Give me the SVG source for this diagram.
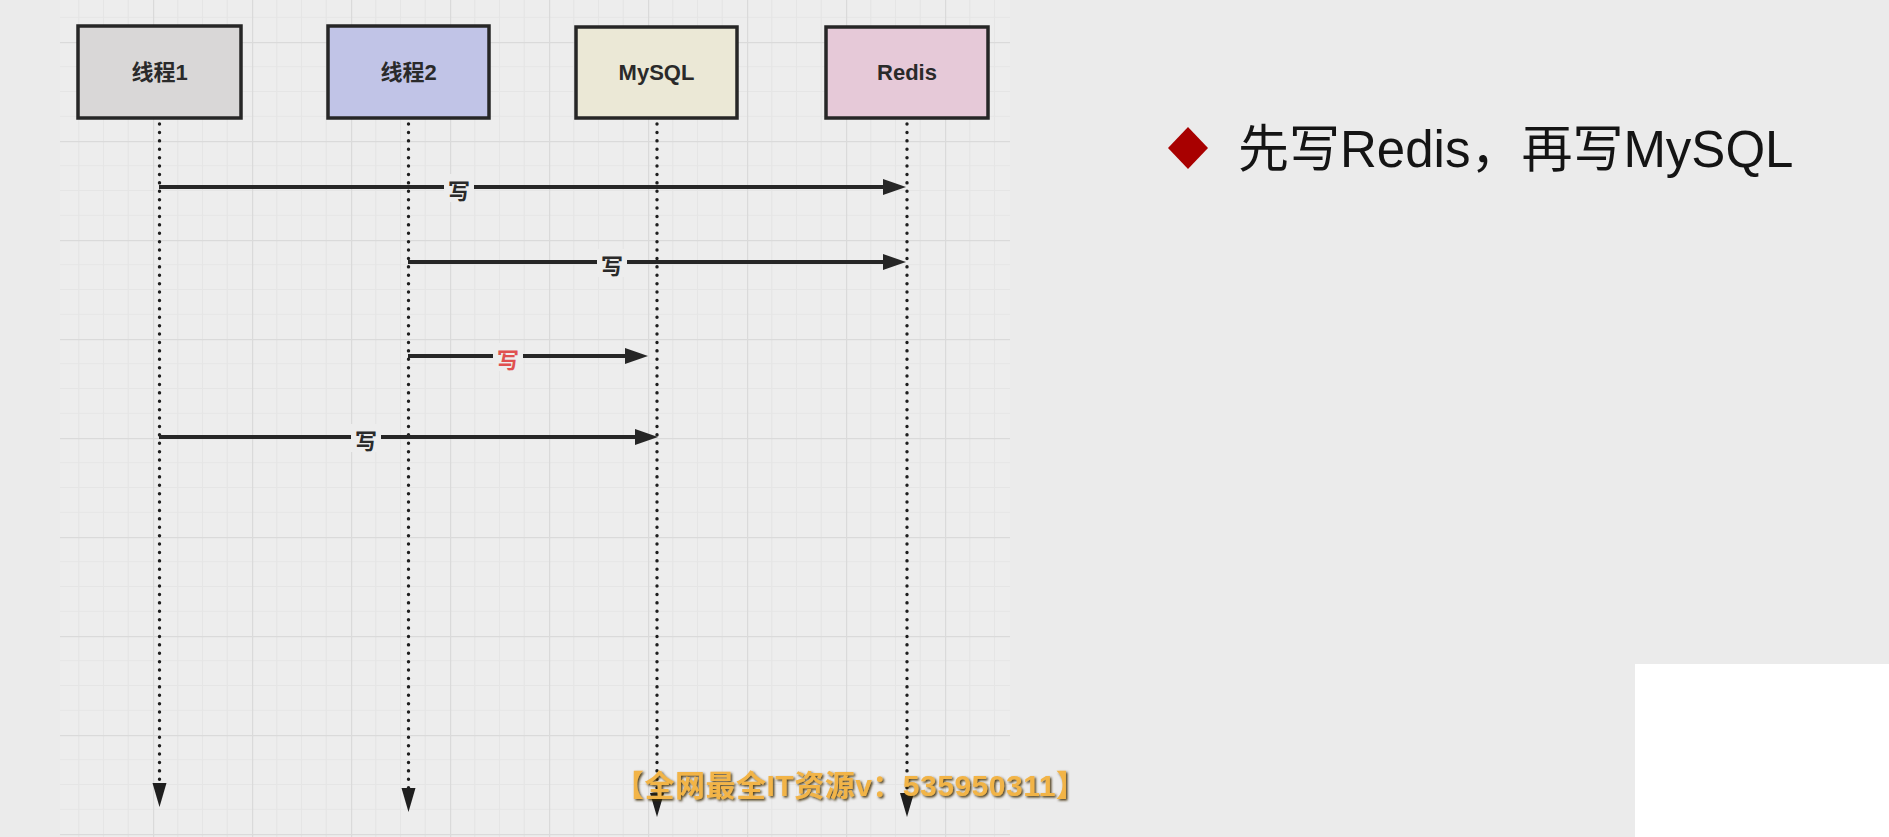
<svg xmlns="http://www.w3.org/2000/svg" width="1889" height="837" viewBox="0 0 1889 837">
  <defs>
    <style>
      .box { stroke: #262626; stroke-width: 3.5; }
      .boxlabel { font-family: "Liberation Sans", "Noto Sans CJK SC", sans-serif; font-size: 22px; font-weight: bold; fill: #2a2a2a; text-anchor: middle; dominant-baseline: central; }
      .life { stroke: #1e1e1e; stroke-width: 3.4; stroke-linecap: round; stroke-dasharray: 0.1 8.3; fill: none; }
      .msg { stroke: #262626; stroke-width: 4; fill: none; }
      .lblbg { fill: #ededed; }
      .lbl { font-family: "Noto Sans CJK SC", sans-serif; font-size: 22px; font-weight: bold; fill: #2a2a2a; text-anchor: middle; dominant-baseline: central; }
      .lbl.red { fill: #e05050; }
      .title { font-family: "Liberation Sans", "Noto Sans CJK SC", sans-serif; font-size: 51px; fill: #141414; }
      .wm { font-family: "Liberation Sans", "Noto Sans CJK SC", sans-serif; font-size: 30px; font-weight: bold; fill: #f2b447; letter-spacing: 0.5px; }
    </style>
    <pattern id="grid" patternUnits="userSpaceOnUse" x="54" y="42" width="99" height="99">
      <path d="M24.75 0V99M49.5 0V99M74.25 0V99M0 24.75H99M0 49.5H99M0 74.25H99" stroke="#e5e5e5" stroke-width="1.2" fill="none"/>
      <path d="M0.5 0V99M0 0.5H99" stroke="#dadada" stroke-width="1.5" fill="none"/>
    </pattern>
    <marker id="ah" markerUnits="userSpaceOnUse" markerWidth="26" markerHeight="18" refX="10" refY="8" orient="auto">
      <path d="M0,0 L23,8 L0,16 z" fill="#262626"/>
    </marker>
    <marker id="ahd" markerUnits="userSpaceOnUse" markerWidth="26" markerHeight="16" refX="2" refY="7" orient="auto">
      <path d="M0,0 L24,7 L0,14 z" fill="#1e1e1e"/>
    </marker>
    <filter id="wmshadow" x="-5%" y="-30%" width="110%" height="160%">
      <feDropShadow dx="1.5" dy="1.5" stdDeviation="0.8" flood-color="#3a2500" flood-opacity="0.9"/>
    </filter>
  </defs>

  <rect x="0" y="0" width="1889" height="837" fill="#ebebeb"/>
  <rect x="60" y="0" width="950" height="837" fill="#ededed"/>
  <rect x="60" y="0" width="950" height="837" fill="url(#grid)"/>

  <g id="connectors">
    <line class="life" x1="159.5" y1="124" x2="159.5" y2="785" marker-end="url(#ahd)"/>
    <line class="life" x1="408.5" y1="124" x2="408.5" y2="790" marker-end="url(#ahd)"/>
    <line class="life" x1="657" y1="124" x2="657" y2="795" marker-end="url(#ahd)"/>
    <line class="life" x1="907" y1="124" x2="907" y2="795" marker-end="url(#ahd)"/>

    <g id="msg1">
      <line class="msg" x1="159" y1="187" x2="893" y2="187" marker-end="url(#ah)"/>
      <rect class="lblbg" x="444" y="174" width="30" height="28"/>
      <text class="lbl" x="459" y="189">写</text>
    </g>
    <g id="msg2">
      <line class="msg" x1="408" y1="262" x2="893" y2="262" marker-end="url(#ah)"/>
      <rect class="lblbg" x="597" y="249" width="30" height="28"/>
      <text class="lbl" x="612" y="264">写</text>
    </g>
    <g id="msg3">
      <line class="msg" x1="408" y1="356" x2="635" y2="356" marker-end="url(#ah)"/>
      <rect class="lblbg" x="493" y="343" width="30" height="28"/>
      <text class="lbl red" x="508" y="358">写</text>
    </g>
    <g id="msg4">
      <line class="msg" x1="159" y1="437" x2="645" y2="437" marker-end="url(#ah)"/>
      <rect class="lblbg" x="351" y="424" width="30" height="28"/>
      <text class="lbl" x="366" y="439">写</text>
    </g>
  </g>

  <g id="node-thread1">
    <rect class="box" x="78" y="26" width="163" height="92" fill="#d9d7d7"/>
    <text class="boxlabel" x="159.5" y="72">线程1</text>
  </g>
  <g id="node-thread2">
    <rect class="box" x="328" y="26" width="161" height="92" fill="#c1c4e7"/>
    <text class="boxlabel" x="408.5" y="72">线程2</text>
  </g>
  <g id="node-mysql">
    <rect class="box" x="576" y="27" width="161" height="91" fill="#ebe8d6"/>
    <text class="boxlabel" x="656.5" y="72">MySQL</text>
  </g>
  <g id="node-redis">
    <rect class="box" x="826" y="27" width="162" height="91" fill="#e6c9d8"/>
    <text class="boxlabel" x="907" y="72">Redis</text>
  </g>

  <g id="title">
    <polygon points="1188,127 1208,148 1188,169 1168,148" fill="#a80000"/>
    <text class="title" x="1238" y="167">先写Redis，再写MySQL</text>
  </g>

  <rect x="1635" y="664" width="254" height="173" fill="#ffffff"/>

  <text class="wm" x="614" y="796" filter="url(#wmshadow)">【全网最全IT资源v：535950311】</text>
</svg>
